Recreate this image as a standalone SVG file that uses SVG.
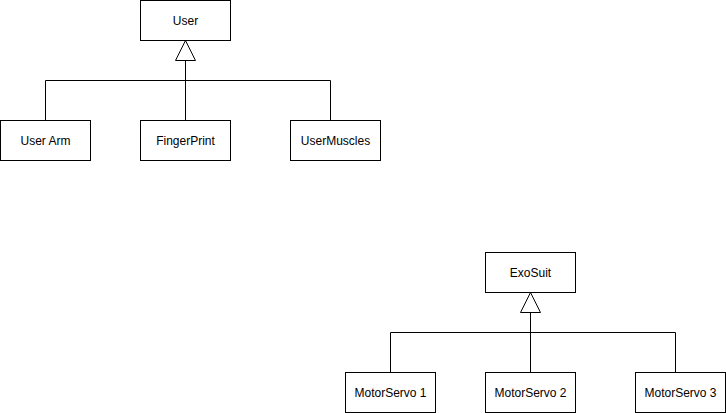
<svg xmlns="http://www.w3.org/2000/svg" width="726" height="413" viewBox="0 0 726 413">
<style>
.box{fill:#fff;stroke:#000;stroke-width:1}
.lbl{font-family:"Liberation Sans",Arial,sans-serif;font-size:12px;fill:#000;text-anchor:middle;dominant-baseline:central}
.edge{fill:none;stroke:#000;stroke-width:1}
.tri{fill:#fff;stroke:#000;stroke-width:1}
</style>
<rect width="726" height="413" fill="#fff"/>
<g id="connectors">
<path class="edge" d="M45.5 120V80.5H185.5M185.5 120V60"/>
<path class="edge" d="M330.5 120V80.5H185.5"/>
<polygon class="tri" points="185.5,40.5 175.5,60.5 195.5,60.5"/>
<path class="edge" d="M390.5 372V332.5H530.5M530.5 372V312"/>
<path class="edge" d="M675.5 372V332.5H530.5"/>
<polygon class="tri" points="530.5,292.5 520.5,312.5 540.5,312.5"/>
</g>
<g id="user"><rect class="box" x="140.5" y="0.5" width="90" height="40"/><text class="lbl" x="185.5" y="20.5">User</text></g>
<g id="userarm"><rect class="box" x="0.5" y="120.5" width="90" height="40"/><text class="lbl" x="45.5" y="140.5">User Arm</text></g>
<g id="fingerprint"><rect class="box" x="140.5" y="120.5" width="90" height="40"/><text class="lbl" x="185.5" y="140.5">FingerPrint</text></g>
<g id="usermuscles"><rect class="box" x="290.5" y="120.5" width="90" height="40"/><text class="lbl" x="335.5" y="140.5">UserMuscles</text></g>
<g id="exosuit"><rect class="box" x="485.5" y="252.5" width="90" height="40"/><text class="lbl" x="530.5" y="272.5">ExoSuit</text></g>
<g id="motorservo1"><rect class="box" x="345.5" y="372.5" width="90" height="40"/><text class="lbl" x="390.5" y="392.5">MotorServo 1</text></g>
<g id="motorservo2"><rect class="box" x="485.5" y="372.5" width="90" height="40"/><text class="lbl" x="530.5" y="392.5">MotorServo 2</text></g>
<g id="motorservo3"><rect class="box" x="635.5" y="372.5" width="90" height="40"/><text class="lbl" x="680.5" y="392.5">MotorServo 3</text></g>
</svg>
